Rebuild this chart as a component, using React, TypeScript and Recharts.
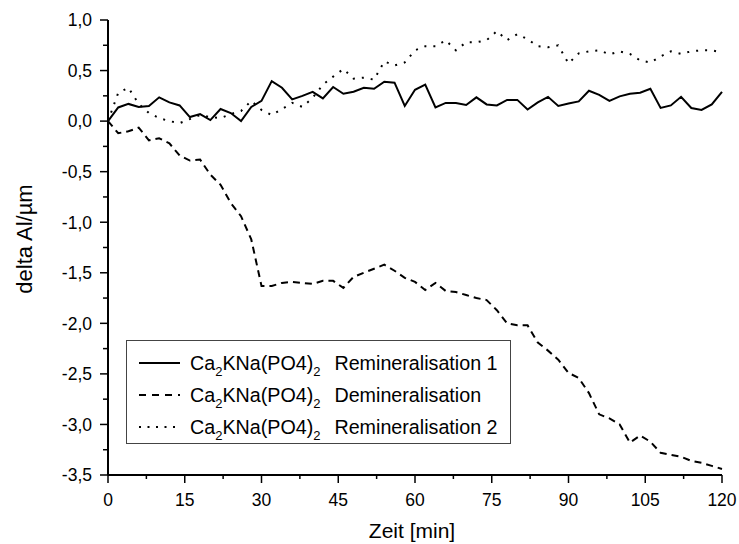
import React from 'react';
import { LineChart, Line, XAxis, YAxis, Legend } from 'recharts';

// time axis, minutes
const minutes = [
    0, 2, 4, 6, 8, 10, 12, 14, 16, 18, 20, 22, 24, 26, 28, 30, 32, 34, 36, 38, 40,
    42, 44, 46, 48, 50, 52, 54, 56, 58, 60, 62, 64, 66, 68, 70, 72, 74, 76, 78, 80,
    82, 84, 86, 88, 90, 92, 94, 96, 98, 100, 102, 104, 106, 108, 110, 112, 114, 116, 118, 120,
];

const remin1 = [
    0.0, 0.135, 0.17, 0.14, 0.15, 0.235, 0.185, 0.155, 0.04, 0.07, 0.01,
    0.12, 0.08, 0.0, 0.14, 0.2, 0.396, 0.33, 0.215, 0.25, 0.29,
    0.225, 0.337, 0.27, 0.29, 0.33, 0.32, 0.39, 0.38, 0.15, 0.31,
    0.36, 0.135, 0.18, 0.18, 0.16, 0.235, 0.165, 0.155, 0.21, 0.21,
    0.115, 0.185, 0.24, 0.15, 0.175, 0.195, 0.3, 0.26, 0.2, 0.245,
    0.27, 0.28, 0.32, 0.13, 0.155, 0.24, 0.13, 0.11, 0.165, 0.29,
];

const demin = [
    0.0, -0.12, -0.1, -0.065, -0.19, -0.17, -0.22, -0.34, -0.39, -0.38, -0.53,
    -0.63, -0.81, -0.94, -1.17, -1.63, -1.63, -1.6, -1.59, -1.6, -1.61,
    -1.58, -1.58, -1.65, -1.54, -1.5, -1.46, -1.42, -1.48, -1.55, -1.59,
    -1.67, -1.6, -1.68, -1.69, -1.72, -1.75, -1.77, -1.87, -2.0, -2.02,
    -2.02, -2.19, -2.27, -2.36, -2.49, -2.54, -2.69, -2.9, -2.94, -3.0,
    -3.18, -3.11, -3.17, -3.28, -3.3, -3.32, -3.36, -3.38, -3.41, -3.44,
];

const remin2 = [
    0.0, 0.28, 0.33, 0.17, 0.08, 0.03, 0.0, -0.02, 0.02, 0.06, 0.04,
    0.03, 0.07, 0.1, 0.2, 0.11, 0.06, 0.12, 0.18, 0.14, 0.23,
    0.36, 0.44, 0.515, 0.42, 0.43, 0.41, 0.59, 0.55, 0.58, 0.7,
    0.74, 0.74, 0.8, 0.7, 0.78, 0.78, 0.8, 0.89, 0.8, 0.86,
    0.81, 0.74, 0.73, 0.75, 0.57, 0.67, 0.69, 0.7, 0.66, 0.69,
    0.665, 0.6, 0.58, 0.64, 0.69, 0.665, 0.69, 0.7, 0.7, 0.68,
];

const xTicks = [0, 7.5, 15, 22.5, 30, 37.5, 45, 52.5, 60, 67.5, 75, 82.5, 90, 97.5, 105, 112.5, 120];
const yTicks = [-3.5, -3.25, -3, -2.75, -2.5, -2.25, -2, -1.75, -1.5, -1.25, -1, -0.75, -0.5, -0.25, 0, 0.25, 0.5, 0.75, 1];

const seriesKeys = ['r1', 'd', 'r2'];
const seriesNames = ['Remineralisation 1', 'Demineralisation', 'Remineralisation 2'];

const FONT = '"Liberation Sans", Arial, sans-serif';

const data = minutes.map((t, i) => ({ t, r1: remin1[i], d: demin[i], r2: remin2[i] }));

const XTick = (props: any) => {
    const { x, y, payload } = props;
    const major = payload.value % 15 === 0;
    return (
        <g>
            <line x1={x} y1={y} x2={x} y2={y + (major ? 8 : 4)} stroke="#000" strokeWidth={1.5} />
            {major && (
                <text x={x} y={y + 31} textAnchor="middle" fontSize={17.5} fontFamily={FONT} fill="#000">
                    {payload.value}
                </text>
            )}
        </g>
    );
};

const YTick = (props: any) => {
    const { x, y, payload } = props;
    const v = payload.value;
    const major = Math.abs(v * 2 - Math.round(v * 2)) < 1e-6;
    return (
        <g>
            <line x1={x} y1={y} x2={x - (major ? 8 : 5)} y2={y} stroke="#000" strokeWidth={1.5} />
            {major && (
                <text x={x - 16} y={y} dy="0.36em" textAnchor="end" fontSize={17.5} fontFamily={FONT} fill="#000">
                    {v.toFixed(1).replace('.', ',')}
                </text>
            )}
        </g>
    );
};

const legendDash: Record<string, string | undefined> = { r1: undefined, d: '7 6', r2: '2 6.5' };

const renderLegend = (props: any) => {
    // keep the legend in the series order, whatever order recharts hands it over
    const entries = [...(props.payload || [])].sort(
        (a: any, b: any) => seriesKeys.indexOf(a.dataKey) - seriesKeys.indexOf(b.dataKey)
    );
    return (
        <div style={{
            border: '1px solid #444', background: '#fff', boxSizing: 'border-box',
            width: '100%', height: '100%', paddingTop: 6, fontFamily: FONT, fontSize: 19.7, color: '#000',
        }}>
            {entries.map((entry: any) => (
                <div key={entry.dataKey} style={{ display: 'flex', alignItems: 'center', height: 32 }}>
                    <svg width={41} height={10} style={{ marginLeft: 12 }}>
                        <line x1={0} y1={5} x2={41} y2={5} stroke="#000" strokeWidth={2}
                            strokeDasharray={legendDash[entry.dataKey]} />
                    </svg>
                    <span style={{ marginLeft: 10, whiteSpace: 'nowrap' }}>
                        Ca<span style={{ fontSize: 13, position: 'relative', top: 6 }}>2</span>KNa(PO4)
                        <span style={{ fontSize: 13, position: 'relative', top: 6 }}>2</span>
                        <span style={{ marginLeft: 14 }}>{entry.value}</span>
                    </span>
                </div>
            ))}
        </div>
    );
};

export default function App() {
    return (
        <div style={{ position: 'absolute', left: 0, top: 0, width: 739, height: 544, background: '#fff' }}>
            <LineChart width={739} height={544} data={data} margin={{ top: 20, right: 17, bottom: 0, left: 0 }}>
                <XAxis
                    dataKey="t"
                    type="number"
                    domain={[0, 120]}
                    ticks={xTicks}
                    interval={0}
                    height={69}
                    tickSize={0}
                    tickMargin={0}
                    tickLine={false}
                    tick={<XTick />}
                    axisLine={{ stroke: '#000', strokeWidth: 2 }}
                    label={{
                        content: () => (
                            <text x={412} y={530} dy="0.36em" textAnchor="middle" fontSize={21} fontFamily={FONT} fill="#000">
                                Zeit [min]
                            </text>
                        ),
                    }}
                />
                <YAxis
                    type="number"
                    domain={[-3.5, 1]}
                    ticks={yTicks}
                    interval={0}
                    width={108}
                    tickSize={0}
                    tickMargin={0}
                    tickLine={false}
                    tick={<YTick />}
                    axisLine={{ stroke: '#000', strokeWidth: 2 }}
                    label={{
                        content: () => (
                            <text x={24} y={239} dy="0.36em" textAnchor="middle" fontSize={22} fontFamily={FONT}
                                fill="#000" transform="rotate(-90, 24, 239)">
                                delta Al/µm
                            </text>
                        ),
                    }}
                />
                <Legend
                    layout="vertical"
                    align="center"
                    verticalAlign="middle"
                    content={renderLegend}
                    wrapperStyle={{ position: 'absolute', left: 126, top: 340, width: 385, height: 104 }}
                />
                <Line dataKey="r1" name={seriesNames[0]} type="linear" stroke="#000" strokeWidth={2} dot={false} isAnimationActive={false} />
                <Line dataKey="d" name={seriesNames[1]} type="linear" stroke="#000" strokeWidth={2} strokeDasharray="7 5" dot={false} isAnimationActive={false} />
                <Line dataKey="r2" name={seriesNames[2]} type="linear" stroke="#000" strokeWidth={2} strokeDasharray="2 7" dot={false} isAnimationActive={false} />
            </LineChart>
        </div>
    );
}
